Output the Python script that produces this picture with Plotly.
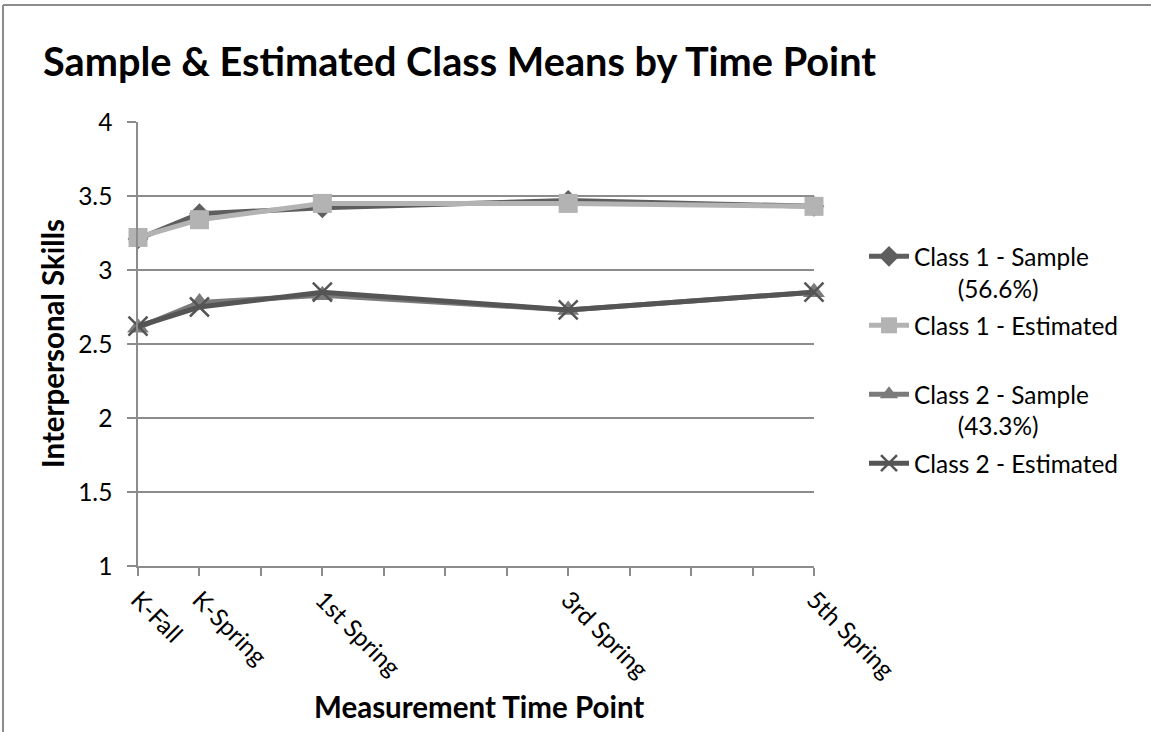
import plotly.graph_objects as go

# ---- data ----
time_labels = ["K-Fall", "K-Spring", "1st Spring", "3rd Spring", "5th Spring"]
time_pos = [0, 0.5, 1.5, 3.5, 5.5]
class1_sample = [3.21, 3.38, 3.42, 3.47, 3.43]
class1_estimated = [3.22, 3.34, 3.45, 3.45, 3.43]
class2_sample = [2.61, 2.78, 2.83, 2.73, 2.85]
class2_estimated = [2.62, 2.75, 2.85, 2.73, 2.85]
y_ticks = [1, 1.5, 2, 2.5, 3, 3.5, 4]
y_tick_text = ["1", "1.5", "2", "2.5", "3", "3.5", "4"]

NB = "\u00a0"
series = [
    ("Class 1 - Sample<br>" + NB * 7 + "(56.6%)", class1_sample, "#5e5e5e", "diamond", 16, 0),
    ("Class 1 - Estimated<br>" + NB, class1_estimated, "#b3b3b3", "square", 19, 0),
    ("Class 2 - Sample<br>" + NB * 7 + "(43.3%)", class2_sample, "#7b7b7b", "triangle-up", 19, 0),
    ("Class 2 - Estimated", class2_estimated, "#555555", "x-thin", 19, 2.5),
]

FONT = "Lato, 'Open Sans', sans-serif"

# plot area in pixels
W, H = 1151, 732
L, R, T, B = 138, 814, 122, 566
pw, ph = R - L, B - T

def px_x(px):
    return (px - L) / pw

def px_y(py):
    return 1 - (py - T) / ph

fig = go.Figure()
for i, (name, vals, color, sym, size, lw) in enumerate(series):
    marker = dict(symbol=sym, size=size, color=color)
    if sym == "x-thin":
        marker["line"] = dict(color=color, width=lw)
    fig.add_trace(go.Scatter(
        x=time_pos, y=vals, name=name, mode="lines+markers",
        line=dict(color=color, width=5),
        marker=marker, cliponaxis=False, legendgroup=f"g{i}",
    ))

fig.update_layout(
    width=W, height=H,
    margin=dict(l=L, r=W - R, t=T, b=H - B),
    paper_bgcolor="white", plot_bgcolor="white",
    font=dict(family=FONT, color="black", size=24),
    title=dict(
        text="<b>Sample &amp; Estimated Class Means by Time Point</b>",
        x=43 / W, xanchor="left", xref="container",
        y=1 - 62 / H, yanchor="middle", yref="container",
        font=dict(family=FONT, size=39.7, color="black"),
    ),
    showlegend=True,
    legend=dict(
        x=px_x(864), xanchor="left", y=px_y(234), yanchor="top",
        font=dict(family=FONT, size=24.4, color="black"),
        valign="top", traceorder="grouped", tracegroupgap=2.5,
        bgcolor="rgba(0,0,0,0)", itemwidth=40,
    ),
)

fig.update_xaxes(
    range=[0, 5.5],
    tickmode="array", tickvals=time_pos, ticktext=time_labels,
    tickangle=45, ticks="outside", ticklen=8, tickcolor="#8c8c8c", tickwidth=1.5,
    showline=True, linecolor="#8c8c8c", linewidth=1.5,
    showgrid=False, zeroline=False,
    tickfont=dict(family=FONT, size=24.5, color="black"),
    minor=dict(tickmode="linear", tick0=0, dtick=0.5, ticks="outside", ticklen=8,
               tickcolor="#8c8c8c", tickwidth=1.5, showgrid=False),
)
fig.update_yaxes(
    range=[1, 4],
    tickmode="array", tickvals=y_ticks, ticktext=y_tick_text,
    ticks="outside", ticklen=9, tickcolor="#8c8c8c", tickwidth=1.5,
    showline=True, linecolor="#8c8c8c", linewidth=1.5,
    showgrid=True, gridcolor="#8c8c8c", gridwidth=1.5,
    zeroline=False, ticklabelstandoff=10,
    tickfont=dict(family=FONT, size=24.5, color="black"),
)

# axis titles
fig.add_annotation(
    text="<b>Measurement Time Point</b>", xref="paper", yref="paper",
    x=px_x(479), y=px_y(706), xanchor="center", yanchor="middle", showarrow=False,
    font=dict(family=FONT, size=29.5, color="black"),
)
fig.add_annotation(
    text="<b>Interpersonal Skills</b>", xref="paper", yref="paper",
    x=px_x(52), y=px_y(343), xanchor="center", yanchor="middle", showarrow=False,
    textangle=-90, font=dict(family=FONT, size=29.5, color="black"),
)

# chart border (top and left edges visible)
fig.add_shape(type="line", xref="paper", yref="paper",
              x0=px_x(3), x1=px_x(1151), y0=px_y(5), y1=px_y(5),
              line=dict(color="#8c8c8c", width=2))
fig.add_shape(type="line", xref="paper", yref="paper",
              x0=px_x(3), x1=px_x(3), y0=px_y(5), y1=px_y(732),
              line=dict(color="#8c8c8c", width=2))

fig.write_html("out.html")
